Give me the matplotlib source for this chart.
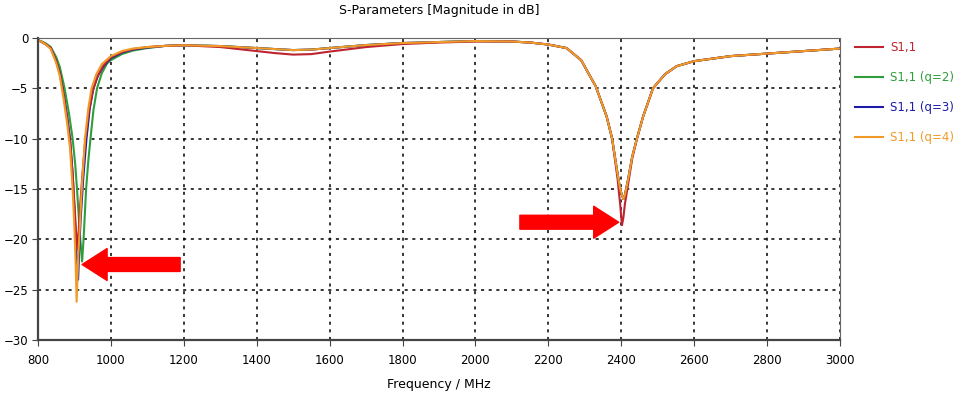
import matplotlib.pyplot as plt

# shared part of the sweep above 1100 MHz
f_hi = [1150, 1200, 1300, 1400, 1450, 1500, 1550, 1600, 1700, 1800, 1900, 2000,
        2100, 2150, 2200, 2250, 2290, 2330, 2360, 2375, 2390, 2397]

# first resonance, one list per trace
f_s11 = [800, 820, 835, 850, 860, 870, 880, 888, 895, 900, 904, 908, 912, 916,
         922, 930, 940, 950, 962, 978, 1000, 1030, 1060, 1100]
v_s11 = [-0.2, -0.6, -1.0, -2.3, -3.6, -5.6, -8.0, -10.3, -13.5, -16.5, -19.0, -21.0,
         -19.0, -16.5, -13.5, -10.0, -7.2, -5.3, -3.9, -2.8, -1.9, -1.4, -1.1, -0.9]

f_q2 = [800, 820, 835, 850, 860, 873, 885, 895, 902, 907, 912, 916, 921, 925,
        932, 938, 944, 952, 962, 975, 990, 1000, 1030, 1060, 1100]
v_q2 = [-0.2, -0.5, -0.9, -1.9, -2.9, -5.0, -7.5, -10.0, -12.5, -15.0, -17.8, -20.0,
        -22.2, -20.0, -15.0, -12.2, -10.0, -7.2, -5.0, -3.5, -2.5, -2.2, -1.6, -1.25, -1.0]

f_q3 = [800, 820, 835, 850, 860, 870, 880, 888, 895, 900, 905, 910, 913, 917,
        924, 933, 942, 952, 965, 980, 1000, 1030, 1060, 1100]
v_q3 = [-0.2, -0.6, -1.0, -2.3, -3.5, -5.5, -7.8, -10.0, -13.5, -17.0, -21.0, -24.0,
        -21.0, -18.0, -14.0, -10.0, -7.0, -5.0, -3.7, -2.8, -2.0, -1.45, -1.15, -0.95]

f_q4 = [800, 820, 835, 850, 860, 870, 880, 888, 895, 900, 903, 906, 910, 913,
        920, 929, 938, 947, 960, 975, 1000, 1030, 1060, 1100]
v_q4 = [-0.2, -0.6, -1.1, -2.5, -3.8, -6.0, -8.5, -11.0, -15.0, -19.0, -22.0, -26.2,
        -22.0, -20.0, -15.0, -10.0, -7.0, -5.0, -3.6, -2.6, -1.8, -1.3, -1.05, -0.9]

# 1150 MHz .. 2397 MHz
mid_s11 = [-0.78, -0.72, -0.9, -1.3, -1.5, -1.65, -1.6, -1.35, -0.9, -0.6, -0.45, -0.35,
           -0.35, -0.45, -0.65, -1.0, -2.2, -4.8, -7.8, -10.0, -14.0, -16.5]
mid_q = [-0.78, -0.72, -0.8, -1.0, -1.1, -1.2, -1.15, -1.0, -0.7, -0.5, -0.4, -0.3,
         -0.35, -0.45, -0.65, -1.0, -2.2, -4.8, -7.8, -10.0, -13.5, -15.0]

# second resonance and the tail up to 3000 MHz
f_top = [2402, 2406, 2410, 2419, 2430, 2443, 2460, 2487, 2520, 2552, 2600, 2700,
         2800, 2900, 3000]
top_s11 = [-18.6, -17.8, -16.5, -14.5, -12.0, -10.0, -7.8, -5.0, -3.6, -2.8, -2.3,
           -1.8, -1.55, -1.3, -1.05]
top_q = [-15.6, -16.0, -15.6, -14.0, -11.8, -10.0, -7.8, -5.0, -3.6, -2.8, -2.3,
         -1.8, -1.55, -1.3, -1.05]

labels = ['S1,1', 'S1,1 (q=2)', 'S1,1 (q=3)', 'S1,1 (q=4)']
colors = ['#bd2430', '#2e9e3a', '#1c1ca8', '#f09a28']
xticks = list(range(800, 3001, 200))
yticks = list(range(-30, 1, 5))

traces = {
    labels[0]: (f_s11 + f_hi + f_top, v_s11 + mid_s11 + top_s11),
    labels[1]: (f_q2 + f_hi + f_top, v_q2 + mid_q + top_q),
    labels[2]: (f_q3 + f_hi + f_top, v_q3 + mid_q + top_q),
    labels[3]: (f_q4 + f_hi + f_top, v_q4 + mid_q + top_q),
}

plt.rcParams['font.family'] = ['DejaVu Sans']

fig = plt.figure(figsize=(9.57, 4.0), dpi=100)
ax = fig.add_axes([0.0397, 0.15, 0.838, 0.755])

lines = {}
for lab in [labels[1], labels[2], labels[0], labels[3]]:
    f, v = traces[lab]
    lines[lab], = ax.plot(f, v, color=colors[labels.index(lab)], lw=1.5, label=lab)

ax.set_xlim(800, 3000)
ax.set_ylim(-30, 0)
ax.set_xticks(xticks)
ax.set_yticks(yticks)
ax.grid(True, color='black', linestyle=(0, (2, 3)), lw=1.1)
ax.tick_params(labelsize=8.5, length=4, color='#444444', pad=3)
ax.tick_params(axis='x', pad=6)
for side in ['left', 'bottom']:
    ax.spines[side].set_linewidth(1.6)
    ax.spines[side].set_color('#444444')
for side in ['top', 'right']:
    ax.spines[side].set_linewidth(0.8)
    ax.spines[side].set_color('#666666')

ax.set_title('S-Parameters [Magnitude in dB]', fontsize=9, pad=17)
ax.set_xlabel('Frequency / MHz', fontsize=9, labelpad=8)

leg = ax.legend([lines[l] for l in labels], labels, loc='upper left',
                bbox_to_anchor=(1.008, 1.018), frameon=False, fontsize=8.5,
                handlelength=2.4, labelspacing=1.45, borderpad=0.2, handletextpad=0.6)
for txt, col in zip(leg.get_texts(), colors):
    txt.set_color(col)

arrow = dict(arrowstyle='simple,head_length=0.9,head_width=1.15,tail_width=0.5',
             color='#ff0000', mutation_scale=20, shrinkA=0, shrinkB=0)
ax.annotate('', xy=(921, -22.5), xytext=(1190, -22.5), arrowprops=arrow)
ax.annotate('', xy=(2393, -18.3), xytext=(2122, -18.3), arrowprops=arrow)

fig.savefig('out.png', dpi=100)
